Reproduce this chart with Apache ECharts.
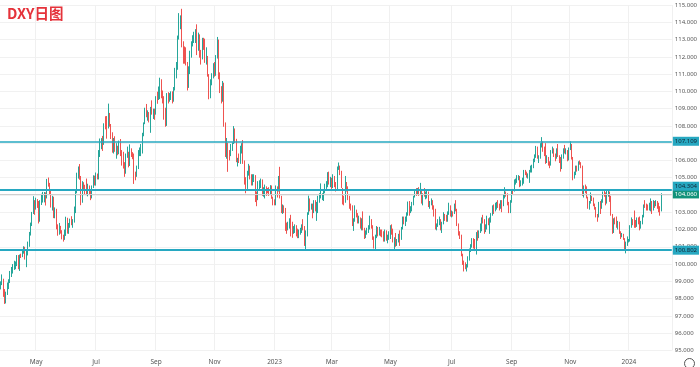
<!DOCTYPE html>
<html><head><meta charset="utf-8">
<script src="https://cdn.jsdelivr.net/npm/echarts@6/dist/echarts.min.js"></script>
<style>html,body{margin:0;padding:0;background:#fff}#c{width:700px;height:367px}</style>
</head><body><div id="c"></div>
<script>
// ---- categories ----
const firstDay = '2022-03-25';
const futureSlots = 7;
const monthNames = ['Jan','Feb','Mar','Apr','May','Jun','Jul','Aug','Sep','Oct','Nov','Dec'];
const chartTitle = 'DXY日图';

// ---- series values (daily DXY) ----
const closes = [
98.79,
98.97,98.39,97.99,98.31,98.62,
99.02,99.49,99.76,99.80,99.83,
99.93,100.29,99.79,100.51,100.49,
100.68,100.95,100.37,100.60,101.12,
101.75,102.35,102.98,103.63,103.18,
103.73,103.46,102.56,103.55,103.66,
103.89,103.91,103.85,104.85,104.56,
104.19,103.36,103.85,102.79,103.18,
102.09,101.89,102.13,101.83,101.67,
101.53,101.75,102.56,101.82,102.15,
102.41,102.34,102.55,103.26,104.15,
105.14,105.50,105.00,103.87,104.67,
104.45,104.44,104.21,104.42,104.20,
103.95,104.48,105.10,104.69,105.14,
105.12,106.52,107.04,107.04,106.90,
108.08,108.04,108.00,108.59,108.07,
107.48,106.68,107.21,106.58,106.72,
106.45,107.03,106.42,106.28,105.86,
105.36,106.23,106.48,105.70,106.64,
106.38,106.34,105.20,105.10,105.63,
106.52,106.53,106.56,107.51,108.16,
108.99,108.56,108.60,108.52,108.83,
108.77,108.79,108.70,109.67,109.54,
110.25,110.25,109.75,109.68,109.00,
108.33,109.80,109.66,109.67,109.73,
109.52,110.17,111.28,111.36,113.19,
114.10,114.17,112.63,112.17,112.12,
111.63,110.20,111.21,112.25,112.80,
113.15,113.18,113.24,112.45,113.31,
112.04,112.02,112.97,112.85,111.99,
112.04,110.92,109.73,110.59,110.75,
111.53,111.44,111.95,112.93,110.85,
110.12,109.66,110.45,108.17,106.30,
106.92,106.39,106.33,106.70,106.95,
107.83,107.15,105.99,106.07,106.02,
106.64,106.80,105.95,104.72,104.55,
105.32,105.56,105.14,104.81,104.98,
105.12,103.97,103.76,104.55,104.70,
104.71,104.14,104.20,104.41,104.31,
104.26,104.19,104.49,103.86,103.52,
103.50,104.27,104.25,105.04,103.88,
103.01,103.25,103.18,102.22,102.20,
102.34,102.38,102.37,101.87,101.99,
102.15,101.92,101.60,101.86,101.92,
102.27,102.10,101.21,101.75,102.92,
103.62,103.42,103.42,103.22,103.62,
103.10,103.26,103.82,103.86,103.87,
103.91,104.19,104.58,104.59,105.21,
104.68,104.87,104.48,105.03,104.53,
104.32,105.62,105.65,105.29,104.58,
103.61,103.60,104.66,104.43,103.86,
103.29,103.25,102.27,102.54,103.12,
102.86,102.44,102.64,102.14,102.51,
102.03,101.56,101.87,101.94,102.08,
102.54,102.21,101.49,101.01,101.55,
102.10,101.72,101.96,101.84,101.82,
101.33,101.85,101.46,101.50,101.66,
102.20,101.95,101.36,101.43,101.21,
101.35,101.60,101.46,102.07,102.70,
102.43,102.56,102.86,103.56,103.20,
103.20,103.49,103.89,104.25,104.23,
104.35,104.08,104.33,103.55,104.02,
104.00,104.11,104.17,103.36,103.55,
103.61,103.34,102.96,102.11,102.24,
102.51,102.51,102.09,102.34,102.88,
102.70,102.52,102.94,103.35,102.91,
102.97,102.94,103.41,103.17,102.28,
101.73,101.65,100.52,100.15,99.91,
99.85,99.95,100.29,100.83,101.08,
101.38,101.32,100.89,101.82,101.62,
101.86,102.30,102.59,102.55,102.02,
102.08,102.53,102.50,102.64,102.87,
103.30,103.20,103.44,103.56,103.38,
103.30,103.57,103.43,104.01,104.08,
104.03,103.52,103.12,103.62,104.24,
104.23,104.84,104.86,105.07,105.08,
104.58,104.71,104.73,105.39,105.33,
105.10,105.17,105.34,105.39,105.58,
105.97,106.21,106.66,106.20,106.22,
106.92,106.98,106.76,106.35,106.04,
106.13,105.80,105.77,106.56,106.65,
106.26,106.19,106.60,106.26,106.16,
105.57,106.26,106.60,106.55,106.58,
106.08,106.69,106.87,106.13,105.02,
105.22,105.55,105.51,105.91,105.87,
105.65,104.05,104.41,104.38,103.86,
103.43,103.58,103.89,103.81,103.41,
103.23,102.81,102.77,103.50,103.27,
103.63,104.14,104.12,103.59,104.01,
104.11,103.84,102.87,101.98,102.59,
102.57,102.18,102.41,101.84,101.70,
101.70,101.48,100.98,101.23,101.33,
101.35,102.20,102.47,102.44,102.41,
102.21,102.56,102.36,102.28,102.40,
102.75,103.40,103.38,103.31,103.28,
103.32,103.59,103.25,103.59,103.43,
103.61,103.41,103.27,103.08,104.06
];

const opens = [
98.75,
98.79,98.97,98.39,97.99,98.31,
98.62,99.02,99.49,99.76,99.80,
99.83,99.93,100.29,99.79,100.51,
100.49,100.68,100.95,100.37,100.60,
101.12,101.75,102.35,102.98,103.63,
103.18,103.73,103.46,102.56,103.55,
103.66,103.89,103.91,103.85,104.85,
104.56,104.19,103.36,103.85,102.79,
103.18,102.09,101.89,102.13,101.83,
101.67,101.53,101.75,102.56,101.82,
102.15,102.41,102.34,102.55,103.26,
104.15,105.14,105.50,105.00,103.87,
104.67,104.45,104.44,104.21,104.42,
104.20,103.95,104.48,105.10,104.69,
105.14,105.12,106.52,107.04,107.04,
106.90,108.08,108.04,108.00,108.59,
108.07,107.48,106.68,107.21,106.58,
106.72,106.45,107.03,106.42,106.28,
105.86,105.36,106.23,106.48,105.70,
106.64,106.38,106.34,105.20,105.10,
105.63,106.52,106.53,106.56,107.51,
108.16,108.99,108.56,108.60,108.52,
108.83,108.77,108.79,108.70,109.67,
109.54,110.25,110.25,109.75,109.68,
109.00,108.33,109.80,109.66,109.67,
109.73,109.52,110.17,111.28,111.36,
113.19,114.10,114.17,112.63,112.17,
112.12,111.63,110.20,111.21,112.25,
112.80,113.15,113.18,113.24,112.45,
113.31,112.04,112.02,112.97,112.85,
111.99,112.04,110.92,109.73,110.59,
110.75,111.53,111.44,111.95,112.93,
110.85,110.12,109.66,110.45,108.17,
106.30,106.92,106.39,106.33,106.70,
106.95,107.83,107.15,105.99,106.07,
106.02,106.64,106.80,105.95,104.72,
104.55,105.32,105.56,105.14,104.81,
104.98,105.12,103.97,103.76,104.55,
104.70,104.71,104.14,104.20,104.41,
104.31,104.26,104.19,104.49,103.86,
103.52,103.50,104.27,104.25,105.04,
103.88,103.01,103.25,103.18,102.22,
102.20,102.34,102.38,102.37,101.87,
101.99,102.15,101.92,101.60,101.86,
101.92,102.27,102.10,101.21,101.75,
102.92,103.62,103.42,103.42,103.22,
103.62,103.10,103.26,103.82,103.86,
103.87,103.91,104.19,104.58,104.59,
105.21,104.68,104.87,104.48,105.03,
104.53,104.32,105.62,105.65,105.29,
104.58,103.61,103.60,104.66,104.43,
103.86,103.29,103.25,102.27,102.54,
103.12,102.86,102.44,102.64,102.14,
102.51,102.03,101.56,101.87,101.94,
102.08,102.54,102.21,101.49,101.01,
101.55,102.10,101.72,101.96,101.84,
101.82,101.33,101.85,101.46,101.50,
101.66,102.20,101.95,101.36,101.43,
101.21,101.35,101.60,101.46,102.07,
102.70,102.43,102.56,102.86,103.56,
103.20,103.20,103.49,103.89,104.25,
104.23,104.35,104.08,104.33,103.55,
104.02,104.00,104.11,104.17,103.36,
103.55,103.61,103.34,102.96,102.11,
102.24,102.51,102.51,102.09,102.34,
102.88,102.70,102.52,102.94,103.35,
102.91,102.97,102.94,103.41,103.17,
102.28,101.73,101.65,100.52,100.15,
99.91,99.85,99.95,100.29,100.83,
101.08,101.38,101.32,100.89,101.82,
101.62,101.86,102.30,102.59,102.55,
102.02,102.08,102.53,102.50,102.64,
102.87,103.30,103.20,103.44,103.56,
103.38,103.30,103.57,103.43,104.01,
104.08,104.03,103.52,103.12,103.62,
104.24,104.23,104.84,104.86,105.07,
105.08,104.58,104.71,104.73,105.39,
105.33,105.10,105.17,105.34,105.39,
105.58,105.97,106.21,106.66,106.20,
106.22,106.92,106.98,106.76,106.35,
106.04,106.13,105.80,105.77,106.56,
106.65,106.26,106.19,106.60,106.26,
106.16,105.57,106.26,106.60,106.55,
106.58,106.08,106.69,106.87,106.13,
105.02,105.22,105.55,105.51,105.91,
105.87,105.65,104.05,104.41,104.38,
103.86,103.43,103.58,103.89,103.81,
103.41,103.23,102.81,102.77,103.50,
103.27,103.63,104.14,104.12,103.59,
104.01,104.11,103.84,102.87,101.98,
102.59,102.57,102.18,102.41,101.84,
101.70,101.70,101.48,100.98,101.23,
101.33,101.35,102.20,102.47,102.44,
102.41,102.21,102.56,102.36,102.28,
102.40,102.75,103.40,103.38,103.31,
103.28,103.32,103.59,103.25,103.59,
103.43,103.61,103.41,103.27,103.08
];

const highs = [
99.00,
99.40,99.15,98.55,98.40,98.93,
99.12,99.60,99.83,100.00,100.19,
100.15,100.52,100.52,100.55,100.60,
100.86,101.03,101.00,100.82,101.30,
101.86,102.40,103.02,103.93,103.70,
103.84,103.76,103.65,103.70,104.07,
104.18,104.17,104.15,104.93,105.01,
104.70,104.23,103.95,103.90,103.28,
103.20,102.30,102.38,102.21,101.96,
101.70,102.00,102.74,102.68,102.38,
102.63,102.77,102.60,103.33,104.24,
105.29,105.65,105.79,105.10,104.80,
104.74,104.59,104.95,104.65,104.55,
104.28,104.55,105.14,105.12,105.30,
105.24,106.60,107.27,107.29,107.42,
108.15,108.56,108.57,109.29,108.75,
108.11,107.63,107.30,107.40,107.00,
106.85,107.15,107.24,106.60,106.50,
105.90,106.40,106.80,106.50,106.93,
106.70,106.48,106.40,105.35,105.70,
106.60,106.75,106.95,107.60,108.20,
109.05,109.27,108.90,108.80,109.10,
109.48,109.00,109.00,109.72,109.98,
110.28,110.79,110.70,110.05,109.72,
109.05,109.90,109.95,109.90,110.00,
110.00,110.25,111.36,111.70,113.23,
114.53,114.40,114.78,112.90,112.60,
112.55,111.70,111.45,112.35,112.90,
113.25,113.45,113.60,113.88,113.40,
113.30,112.40,113.10,113.10,113.05,
112.55,112.05,111.00,110.70,111.05,
111.63,111.70,112.10,113.15,113.00,
111.10,110.30,110.60,110.50,108.20,
107.30,107.02,106.60,106.95,107.05,
107.99,107.85,107.25,106.15,106.40,
106.85,107.00,107.18,106.00,105.03,
105.40,105.80,105.70,105.20,105.20,
105.20,105.15,104.20,104.80,104.85,
104.95,104.90,104.45,104.60,104.50,
104.40,104.45,104.57,104.55,103.90,
103.75,104.55,104.50,105.10,105.63,
103.95,103.45,103.40,103.25,102.40,
102.45,102.65,102.85,102.45,102.20,
102.30,102.25,102.05,102.00,102.10,
102.30,102.60,102.20,101.95,103.00,
103.96,103.80,103.50,103.50,103.70,
103.70,103.60,103.95,104.10,104.67,
104.10,104.30,104.65,104.80,105.32,
105.35,105.05,105.00,105.20,105.10,
104.75,105.65,105.88,105.70,105.40,
104.40,103.95,105.10,104.75,104.50,
103.95,103.50,103.40,102.65,103.40,
103.15,102.95,102.80,102.70,102.65,
103.05,102.10,101.95,102.10,102.25,
102.80,102.60,102.25,101.60,101.70,
102.20,102.15,102.15,102.00,102.00,
101.90,102.00,101.95,101.70,101.90,
102.25,102.30,102.05,101.55,101.80,
101.45,101.75,101.95,102.15,102.75,
102.75,102.75,103.00,103.62,103.65,
103.35,103.60,103.95,104.30,104.40,
104.40,104.45,104.70,104.35,104.10,
104.40,104.20,104.25,104.20,103.65,
103.80,103.70,103.40,103.20,102.35,
102.60,102.75,102.60,102.45,103.00,
102.90,102.85,103.05,103.55,103.40,
103.10,103.05,103.50,103.70,103.20,
102.35,101.90,101.70,100.60,100.20,
100.10,100.00,100.45,100.90,101.15,
101.50,101.50,101.45,101.85,101.95,
101.95,102.35,102.70,102.85,102.60,
102.30,102.80,102.65,102.70,102.95,
103.40,103.45,103.55,103.60,103.70,
103.50,103.70,103.70,104.05,104.45,
104.20,104.10,103.60,103.70,104.30,
104.35,104.90,104.95,105.15,105.15,
105.10,104.85,105.00,105.45,105.45,
105.35,105.25,105.45,105.70,105.75,
106.10,106.35,106.84,106.80,106.30,
107.00,107.35,107.10,106.80,107.00,
106.30,106.20,105.95,106.60,106.80,
106.70,106.40,106.70,106.95,106.30,
106.20,106.35,106.70,106.90,106.70,
106.60,106.75,107.11,106.95,106.20,
105.35,105.70,105.70,105.95,106.00,
105.90,105.70,104.55,104.60,104.50,
103.90,103.65,104.15,103.95,103.85,
103.50,103.30,102.90,103.60,103.65,
103.75,104.20,104.25,104.15,104.25,
104.25,104.20,103.95,102.90,102.65,
102.70,102.75,102.50,102.45,101.90,
101.80,101.75,101.50,101.30,101.60,
101.45,102.25,102.70,102.60,103.10,
102.55,102.70,102.70,102.75,102.50,
102.85,103.45,103.70,103.50,103.45,
103.55,103.80,103.65,103.70,103.65,
103.70,103.65,103.55,103.35,104.10
];

const lows = [
98.53,
98.78,98.10,97.69,97.72,98.21,
98.55,98.90,99.25,99.45,99.66,
99.70,99.88,99.70,99.60,100.35,
100.40,100.60,100.26,99.82,100.50,
101.00,101.65,102.20,102.90,102.85,
103.15,103.25,102.35,102.45,103.42,
103.56,103.57,103.39,103.80,104.48,
104.05,103.27,103.10,102.66,102.65,
102.01,101.64,101.70,101.76,101.43,
101.30,101.40,101.63,101.76,101.75,
102.10,102.25,102.10,102.40,102.95,
104.10,104.95,104.88,103.41,103.55,
104.24,104.03,103.99,103.92,104.03,
103.70,103.80,104.40,104.55,104.54,
104.90,104.90,106.20,106.65,106.55,
106.90,107.80,107.26,107.85,107.95,
107.24,106.45,106.40,106.50,106.10,
106.30,106.36,106.25,105.70,105.53,
105.05,105.23,106.15,105.60,105.68,
106.20,106.07,104.64,104.85,105.05,
105.50,106.25,106.25,106.40,107.40,
108.10,108.50,108.30,108.20,107.60,
108.65,108.40,108.35,108.65,109.28,
109.50,109.55,109.60,109.30,108.36,
107.95,108.00,109.30,109.40,109.50,
109.30,109.40,110.05,110.75,111.25,
113.00,113.60,112.55,111.60,111.60,
111.50,110.05,110.20,111.00,111.95,
112.60,112.80,112.80,112.10,112.35,
111.95,111.55,111.85,112.40,111.65,
111.55,110.85,109.54,109.60,110.35,
110.75,110.85,110.90,111.90,110.70,
109.90,109.30,109.40,107.95,106.20,
106.10,105.34,106.00,106.25,106.55,
106.95,107.00,105.90,105.65,105.85,
105.80,106.40,105.80,104.60,104.10,
104.35,105.12,104.90,104.55,104.55,
104.75,103.59,103.35,103.70,104.30,
104.40,103.95,103.90,103.80,103.95,
104.10,103.95,104.00,103.78,103.40,
103.40,103.40,103.85,104.20,103.80,
102.95,102.90,102.95,101.92,101.75,
101.95,102.05,101.60,101.52,101.75,
101.80,101.60,101.50,101.50,101.70,
101.80,101.95,101.05,100.82,101.60,
102.85,103.05,103.15,102.65,102.95,
103.05,102.50,102.95,103.55,103.80,
103.70,103.65,104.10,104.35,104.45,
104.60,104.45,104.35,104.40,104.45,
104.20,104.25,105.45,105.15,104.40,
103.45,103.40,103.55,104.20,103.70,
103.20,103.10,102.20,101.92,102.45,
102.70,102.35,102.35,102.05,101.95,
101.95,101.45,101.50,101.70,101.80,
102.00,102.05,101.40,100.90,100.79,
101.50,101.60,101.65,101.60,101.55,
101.30,101.30,101.35,101.20,101.40,
101.45,101.70,101.25,100.80,101.00,
101.05,101.25,101.05,101.40,102.00,
102.30,102.20,102.45,102.80,102.80,
102.95,103.05,103.40,103.85,103.95,
104.05,103.95,104.00,103.50,103.40,
103.90,103.75,103.80,103.30,103.20,
103.40,103.15,102.75,102.00,101.95,
102.15,102.25,101.95,101.80,102.30,
102.50,102.45,102.45,102.85,102.75,
102.70,102.75,102.90,103.05,102.20,
101.65,101.45,100.45,99.95,99.57,
99.70,99.57,99.80,100.20,100.70,
100.95,100.90,100.75,100.55,101.35,
101.50,101.80,101.90,102.35,101.75,
101.85,102.00,102.25,101.75,102.40,
102.80,102.90,103.05,103.15,103.25,
103.10,103.20,103.00,103.35,103.80,
103.90,103.40,102.95,102.95,103.55,
104.05,104.20,104.60,104.70,104.85,
104.45,104.50,104.55,104.65,105.15,
105.00,104.95,104.70,105.30,105.30,
105.55,105.90,106.15,106.10,105.85,
106.10,106.75,106.50,106.25,105.80,
105.85,105.70,105.55,105.70,106.40,
106.20,105.95,106.10,106.20,105.85,
105.35,105.50,106.10,106.40,106.35,
105.95,106.00,106.60,106.05,104.85,
104.95,105.15,105.35,105.40,105.75,
105.55,103.95,103.85,104.10,103.80,
103.20,103.15,103.50,103.65,103.35,
103.15,102.70,102.45,102.70,102.90,
103.20,103.55,103.90,103.40,103.50,
103.90,103.60,102.80,101.75,101.80,
102.30,102.10,102.00,101.75,101.45,
101.55,101.40,100.85,100.62,101.05,
101.25,101.30,102.10,102.25,102.10,
102.10,102.15,102.30,101.95,102.05,
102.30,102.70,103.25,103.10,103.10,
103.10,103.05,102.90,103.10,103.25,
103.35,103.20,103.00,102.80,103.05
];

// ---- horizontal levels and y ticks ----
const levels = [107.109, 104.304, 100.802];
const yMin = 95, yMax = 115, yStep = 1;

// ---- build ----
const N = Math.min(closes.length, opens.length, highs.length, lows.length);
const dates = [];
{
  let t = Date.parse(firstDay + 'T00:00:00Z');
  while (dates.length < N + futureSlots) {
    const d = new Date(t);
    const wd = d.getUTCDay();
    if (wd !== 0 && wd !== 6) dates.push(d.toISOString().slice(0, 10));
    t += 86400000;
  }
}
const candles = [];
for (let i = 0; i < N; i++) candles.push([opens[i], closes[i], lows[i], highs[i]]);
const lastClose = closes[N - 1];

function isMarker(i) {
  if (i <= 0 || i >= dates.length) return false;
  const m = +dates[i].slice(5, 7), pm = +dates[i - 1].slice(5, 7);
  return m !== pm && m % 2 === 1;
}
function markerText(v) {
  const m = +v.slice(5, 7);
  return m === 1 ? v.slice(0, 4) : monthNames[m - 1];
}

const cyan = '#27a8c1';
const boxLabel = (val, bg, fg, dy) => ({
  show: true, position: 'end', distance: 1, formatter: () => val.toFixed(3),
  backgroundColor: bg, color: fg, fontSize: 6, fontFamily: 'Noto Sans',
  padding: [2, 2, 1, 2], offset: [0, dy]
});

const chart = echarts.init(document.getElementById('c'), null, { renderer: 'canvas' });
chart.setOption({
  animation: false,
  backgroundColor: '#ffffff',
  title: {
    text: chartTitle, left: 2, top: 1,
    textStyle: { color: '#e5333b', fontSize: 14.5, fontWeight: 'bold', fontFamily: 'Noto Sans CJK SC' }
  },
  grid: { left: 0, right: 28, top: 5, bottom: 16.6 },
  xAxis: {
    type: 'category', data: dates, boundaryGap: true,
    axisLine: { show: false }, axisTick: { show: false },
    axisLabel: {
      interval: (i) => isMarker(i), formatter: markerText,
      color: '#555', fontSize: 6.5, fontFamily: 'Noto Sans', margin: 8
    },
    splitLine: { show: true, interval: (i) => isMarker(i), lineStyle: { color: '#f0f0f0', width: 1 } }
  },
  yAxis: {
    type: 'value', position: 'right', min: yMin, max: yMax, interval: yStep, scale: true,
    axisLine: { show: false }, axisTick: { show: false },
    axisLabel: { formatter: v => v.toFixed(3), color: '#555', fontSize: 6, fontFamily: 'Noto Sans', margin: 3 },
    splitLine: { show: true, lineStyle: { color: '#f1f1f1', width: 1 } }
  },
  series: [{
    type: 'candlestick', data: candles, barWidth: 1,
    itemStyle: { color: '#26a69a', color0: '#ef5350', borderColor: '#26a69a', borderColor0: '#ef5350', borderWidth: 1 },
    markLine: {
      symbol: ['none', 'none'], silent: true, animation: false, precision: 3,
      data: [
        { yAxis: lastClose, lineStyle: { color: '#cfcfcf', width: 1, type: 'solid' }, label: boxLabel(lastClose, '#12937a', '#ffffff', 0) },
        { yAxis: levels[0], lineStyle: { color: cyan, width: 1.5, type: 'solid' }, label: boxLabel(levels[0], cyan, '#123', 0) },
        { yAxis: levels[1], lineStyle: { color: cyan, width: 2, type: 'solid' }, label: boxLabel(levels[1], cyan, '#123', -3.5) },
        { yAxis: levels[2], lineStyle: { color: cyan, width: 2, type: 'solid' }, label: boxLabel(levels[2], cyan, '#123', 0) }
      ]
    }
  }],
  graphic: [{
    type: 'circle', left: 682, top: 356, shape: { r: 5 },
    style: { fill: 'none', stroke: '#555', lineWidth: 1 }
  }]
});
</script>
</body></html>
